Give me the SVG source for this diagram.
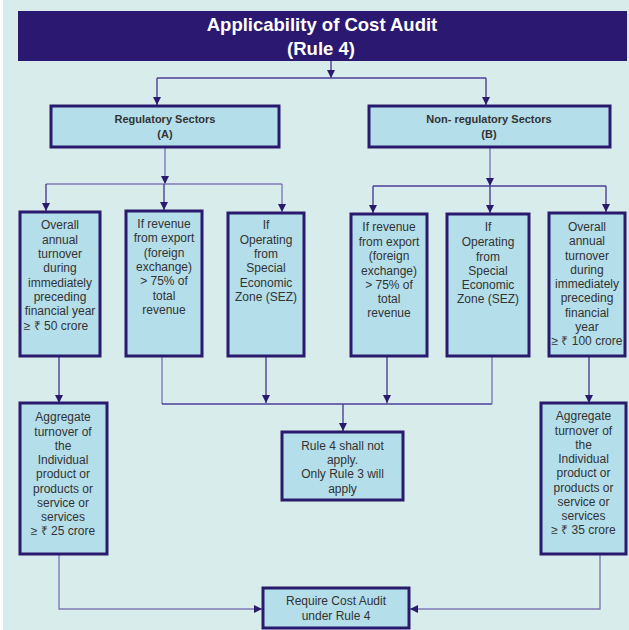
<svg xmlns="http://www.w3.org/2000/svg" width="629" height="630" viewBox="0 0 629 630">
<style>
.bg{fill:#d9ecec}
.box{fill:#b3deea;stroke:#2a1a6e;stroke-width:3}
.t{font-family:"Liberation Sans",Arial,sans-serif;font-size:12px;fill:#333;text-anchor:middle}
.h{font-family:"Liberation Sans",Arial,sans-serif;font-size:11px;font-weight:bold;fill:#333;text-anchor:middle}
.title{font-family:"Liberation Sans",Arial,sans-serif;font-size:18.5px;font-weight:bold;fill:#fff;text-anchor:middle}
.c{fill:none;stroke:#4b3f96;stroke-width:1.4}
.cl{fill:none;stroke:#8079b8;stroke-width:1.4}
</style>
<defs>
<marker id="ah" viewBox="0 0 8 8" refX="8" refY="4" markerWidth="8" markerHeight="8" markerUnits="userSpaceOnUse" orient="auto">
<path d="M0,0 L8,4 L0,8 z" fill="#2a1a6e"/>
</marker>
</defs>
<rect class="bg" x="3" y="0" width="626" height="630"/>

<g id="connectors">
<path class="c" d="M331,61 V78" marker-end="url(#ah)"/>
<path class="c" d="M157,78 H486"/>
<path class="c" d="M157,78 V105" marker-end="url(#ah)"/>
<path class="c" d="M486,78 V105" marker-end="url(#ah)"/>
<path class="cl" d="M165,148 V184" marker-end="url(#ah)"/>
<path class="cl" d="M46,184 H282"/>
<path class="c" d="M46,184 V211" marker-end="url(#ah)"/>
<path class="c" d="M164,184 V210" marker-end="url(#ah)"/>
<path class="cl" d="M282,184 V212" marker-end="url(#ah)"/>
<path class="cl" d="M490,148 V186" marker-end="url(#ah)"/>
<path class="c" d="M373,186 H606"/>
<path class="c" d="M373,186 V213" marker-end="url(#ah)"/>
<path class="c" d="M490,186 V213" marker-end="url(#ah)"/>
<path class="c" d="M606,186 V212" marker-end="url(#ah)"/>
<path class="c" d="M59,357 V403" marker-end="url(#ah)"/>
<path class="c" d="M589,357 V403" marker-end="url(#ah)"/>
<path class="cl" d="M162,357 V404"/>
<path class="c" d="M162,404 H492"/>
<path class="cl" d="M492,357 V404"/>
<path class="c" d="M266,357 V403" marker-end="url(#ah)"/>
<path class="c" d="M387,357 V403" marker-end="url(#ah)"/>
<path class="c" d="M343,404 V431" marker-end="url(#ah)"/>
<path class="cl" d="M59,555 V609 H262" marker-end="url(#ah)"/>
<path class="cl" d="M600,555 V609 H410" marker-end="url(#ah)"/>
</g>

<g id="title">
<rect x="18" y="11" width="609" height="50" fill="#2b1870"/>
<text class="title" x="322" y="31">Applicability of Cost Audit</text>
<text class="title" x="321" y="55">(Rule 4)</text>
</g>

<g id="regulatory">
<rect class="box" x="51" y="106" width="228" height="41"/>
<text class="h" x="165" y="123">Regulatory Sectors</text>
<text class="h" x="165" y="138">(A)</text>
</g>

<g id="nonregulatory">
<rect class="box" x="369" y="106" width="241" height="41"/>
<text class="h" x="489" y="123">Non- regulatory Sectors</text>
<text class="h" x="489" y="138">(B)</text>
</g>

<g id="reg-turnover">
<rect class="box" x="20" y="212" width="80" height="144"/>
<text class="t" x="60" y="229">Overall</text>
<text class="t" x="60" y="243.5">annual</text>
<text class="t" x="60" y="258">turnover</text>
<text class="t" x="60" y="272">during</text>
<text class="t" x="60" y="286.5">immediately</text>
<text class="t" x="60" y="301">preceding</text>
<text class="t" x="60" y="315">financial year</text>
<text class="t" x="56" y="330">≥ ₹ 50 crore</text>
</g>

<g id="reg-export">
<rect class="box" x="126" y="211" width="76" height="145"/>
<text class="t" x="164" y="228">If revenue</text>
<text class="t" x="164" y="242">from export</text>
<text class="t" x="164" y="257">(foreign</text>
<text class="t" x="164" y="271">exchange)</text>
<text class="t" x="164" y="285">&gt; 75% of</text>
<text class="t" x="164" y="300">total</text>
<text class="t" x="164" y="314">revenue</text>
</g>

<g id="reg-sez">
<rect class="box" x="228" y="213" width="76" height="143"/>
<text class="t" x="266" y="229">If</text>
<text class="t" x="266" y="244">Operating</text>
<text class="t" x="266" y="258">from</text>
<text class="t" x="266" y="272">Special</text>
<text class="t" x="266" y="287">Economic</text>
<text class="t" x="266" y="301">Zone (SEZ)</text>
</g>

<g id="non-export">
<rect class="box" x="351" y="214" width="76" height="142"/>
<text class="t" x="389" y="231">If revenue</text>
<text class="t" x="389" y="246">from export</text>
<text class="t" x="389" y="260">(foreign</text>
<text class="t" x="389" y="275">exchange)</text>
<text class="t" x="389" y="289">&gt; 75% of</text>
<text class="t" x="389" y="303">total</text>
<text class="t" x="389" y="317">revenue</text>
</g>

<g id="non-sez">
<rect class="box" x="447" y="214" width="82" height="142"/>
<text class="t" x="488" y="231">If</text>
<text class="t" x="488" y="246">Operating</text>
<text class="t" x="488" y="261">from</text>
<text class="t" x="488" y="275">Special</text>
<text class="t" x="488" y="289">Economic</text>
<text class="t" x="488" y="303">Zone (SEZ)</text>
</g>

<g id="non-turnover">
<rect class="box" x="549" y="213" width="76" height="143"/>
<text class="t" x="587" y="231">Overall</text>
<text class="t" x="587" y="245">annual</text>
<text class="t" x="587" y="260">turnover</text>
<text class="t" x="587" y="274">during</text>
<text class="t" x="587" y="288">immediately</text>
<text class="t" x="587" y="302">preceding</text>
<text class="t" x="587" y="317">financial</text>
<text class="t" x="587" y="331">year</text>
<text class="t" x="587" y="345">≥ ₹ 100 crore</text>
</g>

<g id="reg-aggregate">
<rect class="box" x="20" y="403" width="87" height="151"/>
<text class="t" x="63" y="421">Aggregate</text>
<text class="t" x="63" y="436">turnover of</text>
<text class="t" x="63" y="450">the</text>
<text class="t" x="63" y="464">Individual</text>
<text class="t" x="63" y="478">product or</text>
<text class="t" x="63" y="493">products or</text>
<text class="t" x="63" y="507">service or</text>
<text class="t" x="63" y="521">services</text>
<text class="t" x="63" y="535">≥ ₹ 25 crore</text>
</g>

<g id="rule3">
<rect class="box" x="282" y="432" width="121" height="68"/>
<text class="t" x="342.5" y="450">Rule 4 shall not</text>
<text class="t" x="342.5" y="464">apply.</text>
<text class="t" x="342.5" y="478">Only Rule 3 will</text>
<text class="t" x="342.5" y="493">apply</text>
</g>

<g id="non-aggregate">
<rect class="box" x="541" y="403" width="85" height="151"/>
<text class="t" x="583.5" y="420">Aggregate</text>
<text class="t" x="583.5" y="435">turnover of</text>
<text class="t" x="583.5" y="449">the</text>
<text class="t" x="583.5" y="463">Individual</text>
<text class="t" x="583.5" y="477">product or</text>
<text class="t" x="583.5" y="492">products or</text>
<text class="t" x="583.5" y="506">service or</text>
<text class="t" x="583.5" y="520">services</text>
<text class="t" x="583.5" y="534">≥ ₹ 35 crore</text>
</g>

<g id="require">
<rect class="box" x="263" y="588" width="146" height="40"/>
<text class="t" x="336" y="605">Require Cost Audit</text>
<text class="t" x="336" y="620">under Rule 4</text>
</g>
</svg>
